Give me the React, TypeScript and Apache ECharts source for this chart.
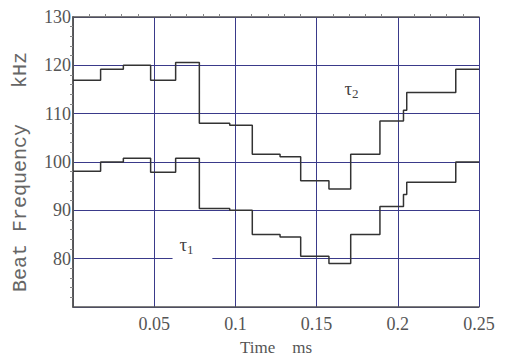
import React, { useEffect, useRef } from "react";
import * as echarts from "echarts";

// segment start times (ms) and step values (kHz)
const stepStarts = [0, 0.017, 0.031, 0.0478, 0.0632, 0.0778, 0.0965, 0.1104, 0.1275, 0.1402, 0.1576, 0.171, 0.189, 0.2035, 0.2055, 0.2357, 0.25];
const tau2Values = [116.9, 119.2, 120.0, 116.9, 120.6, 108.0, 107.6, 101.6, 101.1, 96.1, 94.4, 101.6, 108.5, 110.7, 114.4, 119.2, 119.2];
const tau1Values = [98.1, 100.0, 100.8, 97.9, 100.8, 90.4, 90.0, 85.0, 84.5, 80.5, 79.0, 85.0, 90.8, 93.3, 95.8, 100.0, 100.0];

const xTickLabels = ["0.05", "0.1", "0.15", "0.2", "0.25"];
const yTickLabels = ["80", "90", "100", "110", "120", "130"];
const yAxisTitle = "Beat Frequency   kHz";
const xAxisTitle = "Time    ms";

const tau1Label = { x: 0.0699, y: 83.0 };
const tau2Label = { x: 0.1715, y: 115.3 };
const gapSpan = [0.0613, 0.0858]; // gap in the 80 kHz grid line around τ1

export default function App() {
  const ref = useRef<HTMLDivElement>(null);
  useEffect(() => {
    if (!ref.current) return;
    const chart = echarts.init(ref.current, null, { renderer: "svg" });
    const gridColor = "#3a3a8a";
    const frameColor = "#555";
    const tickFont = { fontFamily: "Liberation Serif", fontSize: 18, color: "#555" };
    const pairs = (vals: number[]) => stepStarts.map((x, i) => [x, vals[i]]);
    chart.setOption({
      animation: false,
      backgroundColor: "#fff",
      grid: { left: 73, right: 26, top: 17, bottom: 50, containLabel: false, outerBoundsMode: "none" },
      xAxis: [
        {
          type: "value",
          min: 0,
          max: 0.25,
          interval: 0.05,
          name: xAxisTitle,
          nameLocation: "middle",
          nameGap: 32,
          nameTextStyle: { fontFamily: "Liberation Serif", fontSize: 17, color: "#555" },
          axisLine: { show: true, lineStyle: { color: frameColor, width: 1.5 } },
          axisTick: { show: false },
          axisLabel: {
            ...tickFont,
            margin: 8,
            formatter: (v: number) => {
              const idx = Math.round(v / 0.05) - 1;
              return idx >= 0 && idx < xTickLabels.length ? xTickLabels[idx] : "";
            },
          },
          splitLine: { show: true, lineStyle: { color: gridColor, width: 1 } },
        },
        {
          type: "value",
          position: "top",
          min: 0,
          max: 0.25,
          interval: 0.05,
          axisLine: { show: true, lineStyle: { color: frameColor, width: 1.5 } },
          axisTick: { show: false },
          minorTick: { show: true, splitNumber: 5, length: 3, inside: true, lineStyle: { color: "#888" } },
          axisLabel: { show: false },
          splitLine: { show: false },
        },
      ],
      yAxis: [
        {
          type: "value",
          min: 70,
          max: 130,
          interval: 10,
          axisLine: { show: true, lineStyle: { color: frameColor, width: 1.5 } },
          axisTick: { show: false },
          minorTick: { show: true, splitNumber: 5, length: 3, inside: true, lineStyle: { color: "#888" } },
          axisLabel: {
            ...tickFont,
            margin: 2,
            formatter: (v: number) => {
              const idx = Math.round((v - 80) / 10);
              return idx >= 0 && idx < yTickLabels.length ? yTickLabels[idx] : "";
            },
          },
          splitLine: { show: true, lineStyle: { color: gridColor, width: 1 } },
        },
        {
          type: "value",
          position: "right",
          min: 70,
          max: 130,
          interval: 10,
          axisLine: { show: true, lineStyle: { color: frameColor, width: 1.5 } },
          axisTick: { show: false },
          axisLabel: { show: false },
          splitLine: { show: false },
        },
      ],
      series: [
        {
          name: "τ2",
          type: "line",
          step: "end",
          data: pairs(tau2Values),
          showSymbol: false,
          lineStyle: { color: "#333", width: 1.5 },
          z: 5,
        },
        {
          name: "τ1",
          type: "line",
          step: "end",
          data: pairs(tau1Values),
          showSymbol: false,
          lineStyle: { color: "#333", width: 1.5 },
          z: 5,
        },
      ],
    });

    const g0 = chart.convertToPixel({ gridIndex: 0 }, [gapSpan[0], 80]) as number[];
    const g1 = chart.convertToPixel({ gridIndex: 0 }, [gapSpan[1], 80]) as number[];
    const t1 = chart.convertToPixel({ gridIndex: 0 }, [tau1Label.x, tau1Label.y]) as number[];
    const t2 = chart.convertToPixel({ gridIndex: 0 }, [tau2Label.x, tau2Label.y]) as number[];
    const tauStyle = (sub: string) => ({
      text: "{a|τ}{b|" + sub + "}",
      align: "center",
      verticalAlign: "middle",
      rich: {
        a: { fontFamily: "Liberation Serif", fontSize: 19, fill: "#444" },
        b: { fontFamily: "Liberation Serif", fontSize: 13, fill: "#444", padding: [10, 0, 0, 0] },
      },
    });
    chart.setOption({
      graphic: [
        {
          type: "rect",
          z: 3,
          shape: { x: g0[0], y: g0[1] - 2, width: g1[0] - g0[0], height: 4 },
          style: { fill: "#fff" },
        },
        { type: "text", z: 6, x: t1[0], y: t1[1], style: tauStyle("1") },
        { type: "text", z: 6, x: t2[0], y: t2[1], style: tauStyle("2") },
        {
          type: "text",
          z: 6,
          x: 20,
          y: 172,
          rotation: Math.PI / 2,
          style: {
            text: yAxisTitle,
            align: "center",
            verticalAlign: "middle",
            fontFamily: "Liberation Mono",
            fontSize: 20,
            fill: "#666",
          },
        },
      ],
    });
    return () => chart.dispose();
  }, []);
  return (
    <div
      ref={ref}
      style={{ position: "absolute", left: 0, top: 0, width: 505, height: 357 }}
    />
  );
}
